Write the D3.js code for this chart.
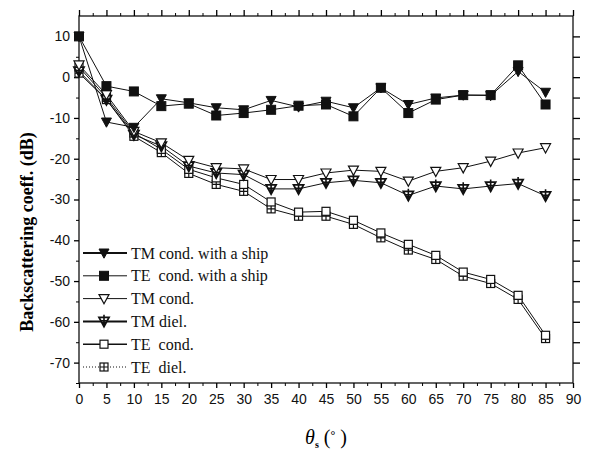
<!DOCTYPE html>
<head>
<meta charset="utf-8">
<style>
body { margin: 0; background: #fff; }
.tick-label { font-family: "Liberation Sans", Arial, sans-serif; font-size: 14px; fill: #111; }
.legend text { font-family: "Liberation Serif", "Times New Roman", serif; font-size: 16px; fill: #111; }
.series-line { fill: none; stroke: #111; stroke-width: 1px; }
</style>
</head>
<body>
<script src="https://d3js.org/d3.v7.min.js"></script>
<script>

// incidence angles (deg)
var angles = [0, 5, 10, 15, 20, 25, 30, 35, 40, 45, 50, 55, 60, 65, 70, 75, 80, 85];

// backscattering coefficients (dB)
var tmShip = [10, -11, -12.3, -5.3, -6.3, -7.5, -8, -5.7, -7.3, -5.9, -7.5, -2.6, -6.7, -5.1, -4.4, -4.5, 1.4, -3.7];
var teShip = [10, -2.2, -3.5, -7.1, -6.5, -9.4, -8.8, -8.0, -7.0, -6.7, -9.6, -2.6, -8.8, -5.5, -4.4, -4.4, 2.9, -6.7];
var tmCond = [3, -4.3, -13.3, -16.1, -20.4, -22.2, -22.5, -25.1, -25.1, -23.5, -22.8, -23.1, -25.5, -23.1, -22.2, -20.6, -18.6, -17.3];
var tmDiel = [1.5, -5.5, -14.1, -16.9, -21.8, -23.5, -23.9, -27.4, -27.4, -25.9, -25.3, -25.9, -29, -26.7, -27.4, -26.7, -26.1, -29.1];
var teCond = [2.5, -5, -13.7, -17.7, -22.6, -24.7, -26.3, -30.6, -33.1, -32.9, -35.1, -38.2, -41.0, -43.7, -47.8, -49.6, -53.5, -63.3];
var teDiel = [1, -5.5, -14.5, -18.5, -23.6, -26.3, -28, -32.3, -34.1, -34.1, -36.1, -39.4, -42.4, -44.7, -48.8, -50.6, -54.5, -64.1];

// axis ticks
var xTicks = [0, 5, 10, 15, 20, 25, 30, 35, 40, 45, 50, 55, 60, 65, 70, 75, 80, 85, 90];
var yTicks = [10, 0, -10, -20, -30, -40, -50, -60, -70];

// legend labels (the TE ones carry a double space in the original)
var labels = ["TM cond. with a ship", "TE\u00a0 cond. with a ship", "TM cond.", "TM diel.", "TE\u00a0 cond.", "TE\u00a0 diel."];

var series = [
  {name: labels[0], values: tmShip, marker: "triFilled", legendWidth: 2},
  {name: labels[1], values: teShip, marker: "sqFilled", legendWidth: 1},
  {name: labels[2], values: tmCond, marker: "triOpen", legendWidth: 1},
  {name: labels[3], values: tmDiel, marker: "triCross", legendWidth: 2},
  {name: labels[4], values: teCond, marker: "sqOpen", legendWidth: 1.4},
  {name: labels[5], values: teDiel, marker: "sqCross", legendWidth: 1, dash: "1,2"}
];

var W = 589, H = 450;
var x = d3.scaleLinear().domain([0, 90]).range([79, 573]);
var y = d3.scaleLinear().domain([-75, 15]).range([383, 16]);

var svg = d3.select("body").append("svg")
    .attr("width", W)
    .attr("height", H);

// frame
svg.append("rect")
    .attr("x", x(0)).attr("y", y(15))
    .attr("width", x(90) - x(0)).attr("height", y(-75) - y(15))
    .attr("fill", "none").attr("stroke", "#111").attr("stroke-width", 1.3);

// bottom axis
var bottom = svg.append("g").attr("transform", "translate(0," + y(-75) + ")");
bottom.call(d3.axisBottom(x).tickValues(xTicks).tickSize(5).tickPadding(6).tickFormat(d3.format("d")));
bottom.selectAll(".tick line").attr("stroke-width", 1.3);
bottom.call(g => g.select(".domain").remove());
bottom.selectAll(".tick text").attr("class", "tick-label").attr("font-size", null).attr("font-family", null);
svg.append("g").attr("transform", "translate(0," + y(-75) + ")")
    .call(d3.axisBottom(x).tickValues(d3.range(2.5, 90, 5)).tickSize(3).tickFormat(""))
    .call(g => g.select(".domain").remove());

// top axis
svg.append("g").attr("transform", "translate(0," + y(15) + ")")
    .call(d3.axisTop(x).tickValues(xTicks).tickSize(6).tickFormat(""))
    .call(g => g.select(".domain").remove())
    .selectAll(".tick line").attr("stroke-width", 1.3);
svg.append("g").attr("transform", "translate(0," + y(15) + ")")
    .call(d3.axisTop(x).tickValues(d3.range(2.5, 90, 5)).tickSize(3).tickFormat(""))
    .call(g => g.select(".domain").remove());

// left axis
var left = svg.append("g").attr("transform", "translate(" + x(0) + ",0)");
left.call(d3.axisLeft(y).tickValues(yTicks).tickSize(5).tickPadding(4).tickFormat(d3.format("d")));
left.call(g => g.select(".domain").remove());
left.selectAll(".tick line").attr("stroke-width", 1.3);
left.selectAll(".tick text").attr("class", "tick-label").attr("font-size", null).attr("font-family", null)
    .text(d => d < 0 ? "-" + Math.abs(d) : d);
svg.append("g").attr("transform", "translate(" + x(0) + ",0)")
    .call(d3.axisLeft(y).tickValues(d3.range(-75, 15, 10)).tickSize(3).tickFormat(""))
    .call(g => g.select(".domain").remove());

// right axis
svg.append("g").attr("transform", "translate(" + x(90) + ",0)")
    .call(d3.axisRight(y).tickValues(d3.range(-70, 15, 5)).tickSize(7).tickFormat(""))
    .call(g => g.select(".domain").remove())
    .selectAll(".tick line").attr("stroke-width", 1.3);

// axis titles
svg.append("text")
    .attr("transform", "translate(33," + 232 + ") rotate(-90)")
    .attr("text-anchor", "middle")
    .style("font-family", "'Liberation Serif', 'Times New Roman', serif")
    .style("font-weight", "bold")
    .style("font-size", "18px")
    .text("Backscattering coeff. (dB)");

var xt = svg.append("text")
    .attr("x", x(45)).attr("y", 444)
    .attr("text-anchor", "middle")
    .style("font-family", "'Liberation Serif', 'Times New Roman', serif")
    .style("font-size", "20px");
xt.append("tspan").style("font-style", "italic").text("\u03b8");
xt.append("tspan").attr("dy", 4).style("font-size", "10px").style("font-weight", "bold").text("s");
xt.append("tspan").attr("dy", -4).text(" (");
xt.append("tspan").attr("dy", -5).style("font-size", "12px").style("font-weight", "bold").text("\u00b0");
xt.append("tspan").attr("dy", 5).text(" )");

// marker shapes
function drawMarker(g, type) {
  var s = 4.6;
  var tri = "M" + (-s - 0.4) + "," + (-s + 0.6) + "L" + (s + 0.4) + "," + (-s + 0.6) + "L0," + (s + 0.6) + "Z";
  if (type === "triFilled") {
    g.append("path").attr("d", tri).attr("fill", "#111").attr("stroke", "#111");
  } else if (type === "triOpen") {
    g.append("path").attr("d", tri).attr("fill", "#fff").attr("stroke", "#111").attr("stroke-width", 1.2);
  } else if (type === "triCross") {
    g.append("path").attr("d", tri).attr("fill", "#fff").attr("stroke", "#111").attr("stroke-width", 1.8);
    g.append("path").attr("d", "M0," + (-s - 2) + "V" + (s + 0.6) + "M-3.5,-0.5H3.5")
        .attr("stroke", "#111").attr("stroke-width", 1.6);
    g.append("path").attr("d", "M-2.5,0.5L2.5,0.5L0,4.8Z").attr("fill", "#111");
  } else if (type === "sqFilled") {
    g.append("rect").attr("x", -4.5).attr("y", -4.5).attr("width", 9).attr("height", 9)
        .attr("fill", "#111").attr("stroke", "#111");
  } else if (type === "sqOpen") {
    g.append("rect").attr("x", -4).attr("y", -4).attr("width", 8).attr("height", 8)
        .attr("fill", "#fff").attr("stroke", "#111").attr("stroke-width", 1.2);
  } else if (type === "sqCross") {
    g.append("rect").attr("x", -4).attr("y", -4).attr("width", 8).attr("height", 8)
        .attr("fill", "#fff").attr("stroke", "#111").attr("stroke-width", 1.2);
    g.append("path").attr("d", "M0,-4V4M-4,0H4").attr("stroke", "#111").attr("stroke-width", 1.2);
  }
}

var line = d3.line()
    .x(function(d) { return x(d[0]); })
    .y(function(d) { return y(d[1]); });

// lines first, markers on top
series.forEach(function(s) {
  var pts = angles.map(function(a, i) { return [a, s.values[i]]; });
  svg.append("path").datum(pts).attr("class", "series-line").attr("d", line);
});
series.slice().reverse().forEach(function(s) {
  angles.forEach(function(a, i) {
    var g = svg.append("g").attr("transform", "translate(" + x(a) + "," + y(s.values[i]) + ")");
    drawMarker(g, s.marker);
  });
});

// legend
var legend = svg.append("g").attr("class", "legend");
series.forEach(function(s, i) {
  var ly = 253 + i * 22.8;
  legend.append("line").attr("x1", 83).attr("x2", 127).attr("y1", ly).attr("y2", ly)
      .attr("stroke", "#111").attr("stroke-width", s.legendWidth)
      .attr("stroke-dasharray", s.dash || null);
  var g = legend.append("g").attr("transform", "translate(104," + ly + ")");
  drawMarker(g, s.marker);
  legend.append("text").attr("x", 131).attr("y", ly + 5.5).text(s.name);
});

</script>
</body>
